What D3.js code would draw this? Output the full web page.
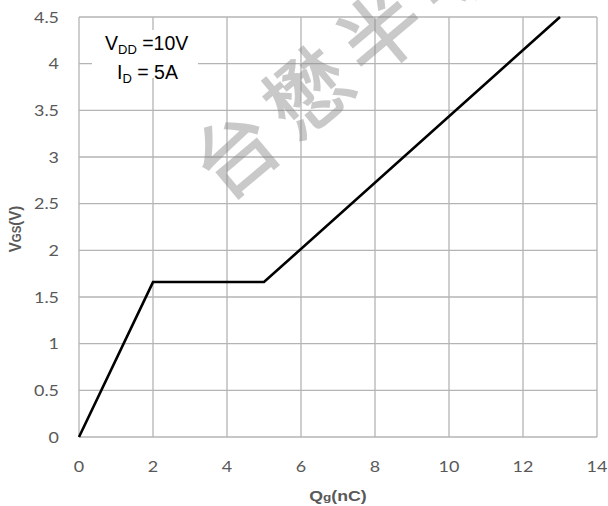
<!DOCTYPE html>
<html>
<head>
<meta charset="utf-8">
<script src="https://cdn.jsdelivr.net/npm/d3@7"></script>
<style>
	body { margin: 0; background: #fff; }
	svg { display: block; }
</style>
</head>
<body>
<svg id="chart" width="608" height="506"></svg>
<script>
// data
var qg = [0, 2, 5, 13];
var vgs = [0, 1.66, 1.66, 4.5];
var xTicks = [0, 2, 4, 6, 8, 10, 12, 14];
var yTicks = [0, 0.5, 1, 1.5, 2, 2.5, 3, 3.5, 4, 4.5];

var margin = {top: 17, right: 11, bottom: 69, left: 79},
	width = 608 - margin.left - margin.right,
	height = 506 - margin.top - margin.bottom;

var x = d3.scaleLinear().domain([0, 14]).range([0, width]);
var y = d3.scaleLinear().domain([0, 4.5]).range([height, 0]);

var svg = d3.select("#chart");
var g = svg.append("g")
	.attr("transform", "translate(" + margin.left + "," + margin.top + ")");

var gridColor = "#b4b4b4";
var tickFont = "Lato, 'Open Sans', sans-serif";

// gridlines
g.selectAll(".vgrid").data(xTicks).enter().append("line")
	.attr("x1", function(d) { return x(d); })
	.attr("x2", function(d) { return x(d); })
	.attr("y1", 0).attr("y2", height)
	.attr("stroke", gridColor).attr("stroke-width", 1.3);
g.selectAll(".hgrid").data(yTicks).enter().append("line")
	.attr("x1", 0).attr("x2", width)
	.attr("y1", function(d) { return y(d); })
	.attr("y2", function(d) { return y(d); })
	.attr("stroke", gridColor).attr("stroke-width", 1.3);

// tick labels (source image is a bit stretched sideways)
g.selectAll(".xl").data(xTicks).enter().append("text")
	.attr("transform", function(d) { return "translate(" + x(d) + "," + (height + 35) + ") scale(1.12,1)"; })
	.attr("text-anchor", "middle")
	.attr("font-family", tickFont)
	.attr("font-size", 16)
	.attr("fill", "#595959")
	.text(function(d) { return d; });
g.selectAll(".yl").data(yTicks).enter().append("text")
	.attr("transform", function(d) { return "translate(-20," + y(d) + ") scale(1.12,1)"; })
	.attr("dy", "0.35em")
	.attr("text-anchor", "end")
	.attr("font-family", tickFont)
	.attr("font-size", 16)
	.attr("fill", "#595959")
	.text(function(d) { return d; });

// curve
var line = d3.line()
	.x(function(d, i) { return x(qg[i]); })
	.y(function(d, i) { return y(vgs[i]); });
g.append("path")
	.datum(qg)
	.attr("d", line)
	.attr("fill", "none")
	.attr("stroke", "#000")
	.attr("stroke-width", 2.6)
	.attr("stroke-linejoin", "miter");

// watermark
svg.append("g")
	.attr("opacity", 0.45)
	.append("text")
	.attr("transform", "translate(346,54) rotate(-40)")
	.attr("text-anchor", "middle")
	.attr("dominant-baseline", "central")
	.attr("font-family", "'Noto Sans CJK SC', sans-serif")
	.attr("font-size", 82)
	.attr("letter-spacing", 13)
	.attr("fill", "#888")
	.attr("stroke", "#888")
	.attr("stroke-width", 1.6)
	.text("台懋半导");

// condition box
svg.append("rect")
	.attr("x", 92).attr("y", 30)
	.attr("width", 106).attr("height", 48)
	.attr("fill", "#fff");
var t1 = svg.append("text")
	.attr("x", 105).attr("y", 50)
	.attr("font-family", "'Liberation Sans', Arial, sans-serif")
	.attr("font-size", 19.5).attr("fill", "#000");
t1.append("tspan").text("V");
t1.append("tspan").attr("font-size", 13).attr("dy", 4).text("DD");
t1.append("tspan").attr("dy", -4).text(" =10V");
var t2 = svg.append("text")
	.attr("x", 117).attr("y", 79)
	.attr("font-family", "'Liberation Sans', Arial, sans-serif")
	.attr("font-size", 19.5).attr("fill", "#000");
t2.append("tspan").text("I");
t2.append("tspan").attr("font-size", 13).attr("dy", 4).text("D");
t2.append("tspan").attr("dy", -4).text(" = 5A");

// axis titles
var xt = svg.append("text")
	.attr("transform", "translate(" + (margin.left + width / 2) + ",501) scale(1.18,1)")
	.attr("text-anchor", "middle")
	.attr("font-family", "'Liberation Sans', Arial, sans-serif")
	.attr("font-weight", "bold")
	.attr("font-size", 15)
	.attr("fill", "#595959");
xt.append("tspan").text("Q");
xt.append("tspan").attr("font-size", 11.5).text("g");
xt.append("tspan").text("(nC)");

var yt = svg.append("text")
	.attr("transform", "translate(21," + (margin.top + height / 2 + 2) + ") rotate(-90) scale(1,1.15)")
	.attr("text-anchor", "middle")
	.attr("font-family", "'Liberation Sans', Arial, sans-serif")
	.attr("font-weight", "bold")
	.attr("font-size", 15)
	.attr("fill", "#595959");
yt.append("tspan").text("V");
yt.append("tspan").attr("font-size", 11.5).text("GS");
yt.append("tspan").text("(V)");
</script>
</body>
</html>
